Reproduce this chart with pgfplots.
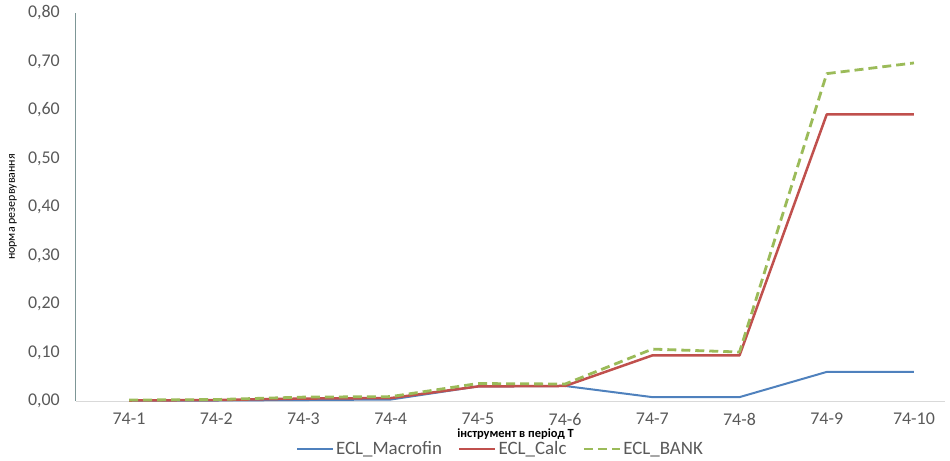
\documentclass[border=0pt]{standalone}
\usepackage{pgfplots}
\pgfplotsset{compat=1.18}
\usepackage{fontspec}
\setmainfont{Carlito}
\definecolor{cblue}{HTML}{4F81BD}
\definecolor{cred}{HTML}{C0504D}
\definecolor{cgreen}{HTML}{9BBB59}
\definecolor{tickgray}{HTML}{595959}
\definecolor{yaxcol}{RGB}{125,150,150}
\definecolor{xaxcol}{HTML}{D9D9D9}
\begin{document}
\begin{tikzpicture}
\begin{axis}[
  scale only axis, width=869bp, height=388bp,
  xmin=0.392, xmax=10.356, ymin=0, ymax=0.8,
  axis x line*=bottom, axis y line*=left,
  x axis line style={xaxcol, line width=1bp, -},
  y axis line style={yaxcol, line width=1bp, -},
  xtick={1,2,3,4,5,6,7,8,9,10},
  xticklabels={74-1,74-2,74-3,74-4,74-5,74-6,74-7,74-8,74-9,74-10},
  ytick={0,0.1,0.2,0.3,0.4,0.5,0.6,0.7,0.8},
  major tick length=0pt,
  /pgf/number format/assume math mode=true,
  tick label style={font=\fontsize{18}{18}\selectfont, text=tickgray},
  yticklabel style={/pgf/number format/fixed, /pgf/number format/fixed zerofill,
    /pgf/number format/precision=2, /pgf/number format/use comma},
  yticklabel style={anchor=east, inner sep=0pt, xshift=-16bp},
  xticklabel style={anchor=north, inner sep=0pt, yshift=-12bp},
  xlabel={інструмент в період Т},
  xlabel style={font=\bfseries\fontsize{12.5}{12.5}\selectfont, inner sep=0pt, at={(rel axis cs:0.5,0)}, anchor=center, yshift=-33bp, xshift=5bp},
  ylabel={норма резервування},
  ylabel style={font=\fontsize{12}{12}\selectfont, at={(rel axis cs:0,0.5)}, anchor=center, yshift=63bp},
  legend style={at={(0.5,0)}, anchor=center, yshift=-48bp, xshift=-10bp, draw=none, fill=none,
    font=\fontsize{19}{19}\selectfont, text=tickgray, legend columns=-1, inner sep=0pt,
    /tikz/every even column/.append style={column sep=14bp}},
  legend image code/.code={\draw[#1] (0bp,0bp) -- (36bp,0bp);},
  every axis plot/.append style={line join=round},
]
\addplot[cblue, line width=2bp] coordinates {
 (1,0.001) (2,0.001) (3,0.002) (4,0.003) (5,0.030) (6,0.031) (7,0.008) (8,0.008) (9,0.060) (10,0.060)};
\addlegendentry{ECL\_Macrofin}
\addplot[cred, line width=2.5bp] coordinates {
 (1,0.001) (2,0.002) (3,0.005) (4,0.006) (5,0.030) (6,0.031) (7,0.094) (8,0.094) (9,0.591) (10,0.591)};
\addlegendentry{ECL\_Calc}
\addplot[cgreen, line width=2.8bp, dash pattern=on 9bp off 5bp] coordinates {
 (1,0.002) (2,0.003) (3,0.008) (4,0.009) (5,0.036) (6,0.035) (7,0.107) (8,0.101) (9,0.675) (10,0.697)};
\addlegendentry{ECL\_BANK}
\coordinate (bl) at (rel axis cs:0,0);
\coordinate (tr) at (rel axis cs:1,1);
\end{axis}
\pgfresetboundingbox
\path ([shift={(-76bp,-60bp)}]bl) rectangle ([shift={(5bp,13bp)}]tr);
\end{tikzpicture}
\end{document}
